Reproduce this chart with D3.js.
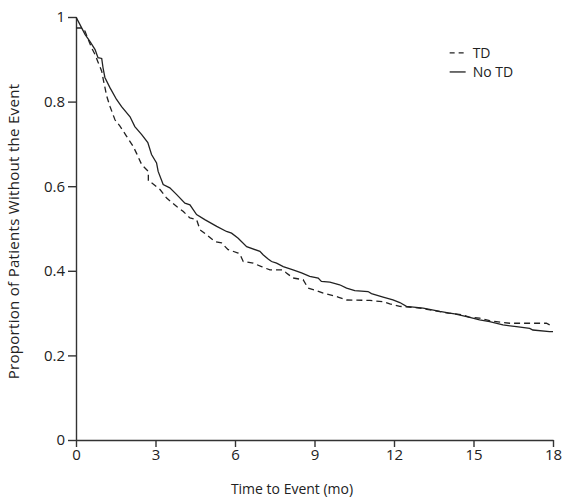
<!DOCTYPE html>
<html>
<head>
<meta charset="utf-8">
<script src="https://cdn.jsdelivr.net/npm/d3@7"></script>
<style>
  body { margin: 0; background: #fff; }
  .axis text { font-family: "Open Sans", sans-serif; font-size: 15px; fill: #222; }
  .axis path, .axis line { stroke: #333; stroke-width: 1.4; }
  .title { font-family: "Open Sans", sans-serif; font-size: 14px; fill: #222; }
  .y-title { font-size: 15px; letter-spacing: 0.3px; }
</style>
</head>
<body>
<div id="chart"></div>
<script>

// Kaplan-Meier style curves
var noTdTime = [0, 0.15, 0.34, 0.53, 0.72, 0.83, 0.97, 1.02, 1.09, 1.28, 1.53, 1.72, 2.04, 2.22, 2.48, 2.71,
  2.85, 3.04, 3.10, 3.29, 3.54, 3.80, 4.11, 4.30, 4.55, 4.86, 5.31, 5.68, 5.87, 6.12, 6.44, 6.94,
  7.06, 7.25, 7.38, 7.57, 7.82, 8.19, 8.51, 8.82, 9.14, 9.26, 9.58, 9.95, 10.21, 10.52, 11.02, 11.15,
  11.59, 11.96, 12.22, 12.47, 13.10, 13.73, 14.10, 14.29, 14.86, 15.23, 15.61, 16.11, 16.62, 17.12,
  17.24, 17.87, 18];
var noTdSurv = [1.0, 0.982, 0.959, 0.942, 0.923, 0.904, 0.902, 0.880, 0.857, 0.833, 0.805, 0.788, 0.764, 0.741, 0.722, 0.703,
  0.675, 0.655, 0.635, 0.604, 0.596, 0.580, 0.560, 0.556, 0.533, 0.521, 0.505, 0.493, 0.489, 0.477, 0.457, 0.446,
  0.438, 0.428, 0.422, 0.418, 0.410, 0.402, 0.395, 0.387, 0.383, 0.375, 0.373, 0.367, 0.359, 0.353, 0.351, 0.346,
  0.338, 0.331, 0.325, 0.316, 0.312, 0.304, 0.300, 0.298, 0.290, 0.284, 0.280, 0.272, 0.268, 0.264,
  0.260, 0.256, 0.256];

var tdTime = [0, 0.27, 0.34, 0.59, 0.72, 0.84, 0.97, 1.03, 1.16, 1.28, 1.47, 1.66, 1.91, 2.16, 2.29, 2.48,
  2.73, 2.73, 2.85, 3.17, 3.42, 3.80, 4.05, 4.30, 4.55, 4.68, 4.93, 5.24, 5.49, 5.74, 6.12, 6.18,
  6.31, 6.69, 7.00, 7.32, 7.82, 7.94, 8.19, 8.57, 8.76, 9.08, 9.33, 9.89, 10.21, 11.09, 11.59, 11.84,
  12.22, 12.97, 14.04, 14.60, 14.86, 15.23, 15.61, 16.37, 17.75, 18];
var tdSurv = [0.974, 0.974, 0.966, 0.927, 0.911, 0.892, 0.872, 0.852, 0.813, 0.789, 0.757, 0.742, 0.718, 0.694, 0.677, 0.651,
  0.635, 0.612, 0.608, 0.592, 0.572, 0.552, 0.540, 0.525, 0.521, 0.497, 0.485, 0.469, 0.466, 0.450, 0.442, 0.440,
  0.422, 0.418, 0.410, 0.402, 0.402, 0.395, 0.383, 0.379, 0.359, 0.353, 0.347, 0.338, 0.331, 0.330, 0.327, 0.322,
  0.316, 0.312, 0.300, 0.296, 0.290, 0.288, 0.282, 0.276, 0.276, 0.268];

var xTicks = [0, 3, 6, 9, 12, 15, 18];
var yTicks = [0, 0.2, 0.4, 0.6, 0.8, 1];
var seriesNames = ["TD", "No TD"];

var margin = { top: 17, right: 14, bottom: 58, left: 76 };
var width = 567 - margin.left - margin.right,
    height = 498 - margin.top - margin.bottom;

var svg = d3.select("#chart").append("svg")
    .attr("width", 567)
    .attr("height", 498)
  .append("g")
    .attr("transform", "translate(" + margin.left + "," + margin.top + ")");

// Scales and axes
var x = d3.scaleLinear().domain([0, 18]).range([0, width]);
var y = d3.scaleLinear().domain([0, 1]).range([height, 0]);

var xAxis = d3.axisBottom(x).tickValues(xTicks).tickSize(7).tickPadding(2).tickSizeOuter(0);
var yAxis = d3.axisLeft(y).tickValues(yTicks).tickSize(8).tickPadding(3).tickSizeOuter(0)
    .tickFormat(function(d) { return d === 0 || d === 1 ? d : d3.format(".1f")(d); });

svg.append("g")
    .attr("class", "x-axis axis")
    .attr("transform", "translate(0," + height + ")")
    .call(xAxis);
svg.append("g")
    .attr("class", "y-axis axis")
    .call(yAxis);

// Curves
var line = d3.line()
    .x(function(d) { return x(d[0]); })
    .y(function(d) { return y(d[1]); });

var tdData = tdTime.map(function(t, i) { return [t, tdSurv[i]]; });
var noTdData = noTdTime.map(function(t, i) { return [t, noTdSurv[i]]; });

svg.append("path")
    .datum(noTdData)
    .attr("d", line)
    .attr("fill", "none")
    .attr("stroke", "#222")
    .attr("stroke-width", 1.3);

svg.append("path")
    .datum(tdData)
    .attr("d", line)
    .attr("fill", "none")
    .attr("stroke", "#222")
    .attr("stroke-width", 1.3)
    .attr("stroke-dasharray", "6,4");

// Legend
var legend = svg.selectAll(".legend").data(seriesNames).enter()
    .append("g")
    .attr("class", "legend")
    .attr("transform", function(d, i) { return "translate(" + (x(14.1)) + "," + (y(0.915) + i * 19) + ")"; });

legend.append("line")
    .attr("x1", 0).attr("x2", 16)
    .attr("stroke", "#222")
    .attr("stroke-width", 1.3)
    .attr("stroke-dasharray", function(d, i) { return i === 0 ? "5,4" : null; });

legend.append("text")
    .attr("class", "title")
    .attr("x", 23)
    .attr("dy", "0.35em")
    .text(function(d) { return d; });

// Axis titles
svg.append("text")
    .attr("class", "title")
    .attr("x", 216)
    .attr("y", height + 54)
    .attr("text-anchor", "middle")
    .text("Time to Event (mo)");

svg.append("text")
    .attr("class", "title y-title")
    .attr("transform", "translate(-57," + (height / 2 + 3) + ") rotate(-90)")
    .attr("text-anchor", "middle")
    .text("Proportion of Patients Without the Event");

</script>
</body>
</html>
